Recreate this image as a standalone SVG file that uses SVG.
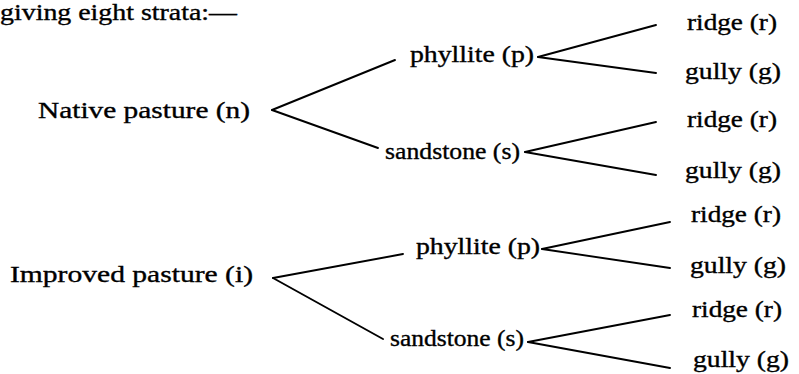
<svg xmlns="http://www.w3.org/2000/svg" width="799" height="374" viewBox="0 0 799 374">
<style>
text{font-family:"Liberation Serif","Times New Roman",serif;font-size:23px;fill:#000;stroke:#000;stroke-width:0.35}
.c line{stroke:#000;stroke-width:1.9;stroke-linecap:round}
</style>
<rect width="799" height="374" fill="#fff"/>
<text id="intro" x="0" y="20" font-size="21" textLength="237" lengthAdjust="spacingAndGlyphs">giving eight strata:—</text>
<g class="c" id="connectors">
<line x1="272" y1="110" x2="395" y2="60"/>
<line x1="272" y1="110" x2="378" y2="148"/>
<line x1="538" y1="57" x2="656" y2="25"/>
<line x1="538" y1="57" x2="656" y2="73"/>
<line x1="525" y1="152" x2="656" y2="122"/>
<line x1="525" y1="152" x2="656" y2="175"/>
<line x1="273" y1="278" x2="403" y2="254"/>
<line x1="273" y1="278" x2="383" y2="339"/>
<line x1="542" y1="249" x2="670" y2="222"/>
<line x1="542" y1="249" x2="670" y2="268"/>
<line x1="528" y1="342" x2="670" y2="315"/>
<line x1="528" y1="342" x2="670" y2="368"/>
</g>
<g id="native"><text x="38" y="118" textLength="212" lengthAdjust="spacingAndGlyphs">Native pasture (n)</text></g>
<g id="phyllite1"><text x="410" y="62" textLength="124" lengthAdjust="spacingAndGlyphs">phyllite (p)</text></g>
<g id="ridge1"><text x="687" y="30" textLength="90" lengthAdjust="spacingAndGlyphs">ridge (r)</text></g>
<g id="gully1"><text x="685" y="79" textLength="96" lengthAdjust="spacingAndGlyphs">gully (g)</text></g>
<g id="sandstone1"><text x="385" y="159" textLength="135" lengthAdjust="spacingAndGlyphs">sandstone (s)</text></g>
<g id="ridge2"><text x="687" y="127" textLength="90" lengthAdjust="spacingAndGlyphs">ridge (r)</text></g>
<g id="gully2"><text x="685" y="178" textLength="96" lengthAdjust="spacingAndGlyphs">gully (g)</text></g>
<g id="improved"><text x="10" y="282" textLength="243" lengthAdjust="spacingAndGlyphs">Improved pasture (i)</text></g>
<g id="phyllite2"><text x="416" y="254" textLength="124" lengthAdjust="spacingAndGlyphs">phyllite (p)</text></g>
<g id="ridge3"><text x="691" y="222" textLength="90" lengthAdjust="spacingAndGlyphs">ridge (r)</text></g>
<g id="gully3"><text x="690" y="273" textLength="96" lengthAdjust="spacingAndGlyphs">gully (g)</text></g>
<g id="sandstone2"><text x="390" y="346" textLength="134" lengthAdjust="spacingAndGlyphs">sandstone (s)</text></g>
<g id="ridge4"><text x="692" y="317" textLength="90" lengthAdjust="spacingAndGlyphs">ridge (r)</text></g>
<g id="gully4"><text x="693" y="367" textLength="96" lengthAdjust="spacingAndGlyphs">gully (g)</text></g>
</svg>
